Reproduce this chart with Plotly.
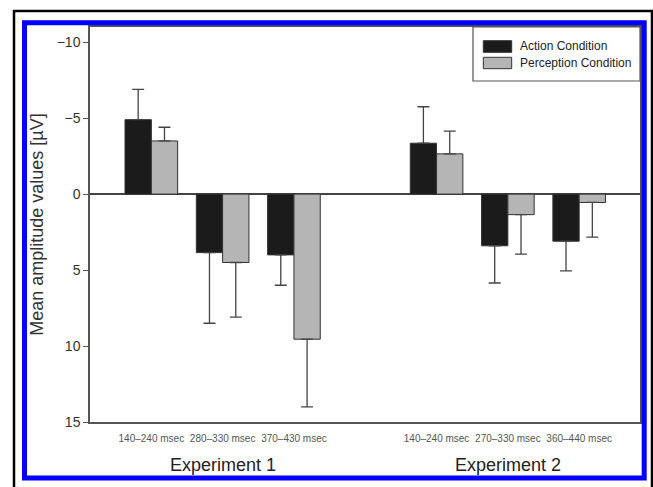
import plotly.graph_objects as go

# ---------------- data ----------------
positions = [0, 1, 2, 4, 5, 6]
window_labels = ["140–240 msec", "280–330 msec", "370–430 msec",
                 "140–240 msec", "270–330 msec", "360–440 msec"]
experiment_labels = ["Experiment 1", "Experiment 2"]
experiment_centers = [1, 5]
series_names = ["Action Condition", "Perception Condition"]
action_values = [-4.9, 3.85, 4.0, -3.35, 3.4, 3.1]
action_errors = [2.0, 4.65, 2.0, 2.4, 2.45, 1.95]
perception_values = [-3.5, 4.5, 9.55, -2.65, 1.35, 0.55]
perception_errors = [0.9, 3.6, 4.45, 1.5, 2.6, 2.28]
y_tick_values = [-10, -5, 0, 5, 10, 15]
y_tick_labels = ["−10", "−5", "0", "5", "10", "15"]

# ---------------- layout geometry (pixels) ----------------
W, H = 653, 487
L, R, T, B = 90, 13, 27, 65
PW, PH = W - L - R, H - T - B


def px(x):
    return (x - L) / PW


def py(y):
    return (H - B - y) / PH


def one_sided(values, errors):
    plus = [e if v > 0 else 0 for v, e in zip(values, errors)]
    minus = [e if v < 0 else 0 for v, e in zip(values, errors)]
    return plus, minus


colors = ["#1b1b1b", "#b5b5b5"]
fig = go.Figure()
for name, vals, errs, col in zip(series_names,
                                 [action_values, perception_values],
                                 [action_errors, perception_errors], colors):
    plus, minus = one_sided(vals, errs)
    fig.add_trace(go.Bar(
        x=positions, y=vals, name=name, showlegend=False,
        marker=dict(color=col, line=dict(color="#333333", width=1)),
        error_y=dict(type="data", symmetric=False, array=plus, arrayminus=minus,
                     color="#444444", thickness=1.3, width=6),
    ))

font_family = "Liberation Sans, Arial, sans-serif"

fig.update_layout(
    width=W, height=H,
    margin=dict(l=L, r=R, t=T, b=B, pad=0),
    paper_bgcolor="white", plot_bgcolor="white",
    barmode="group", bargap=0.262, bargroupgap=0,
    font=dict(family=font_family, color="#333333"),
    xaxis=dict(range=[-0.86, 6.853], tickvals=positions, ticktext=window_labels,
               tickfont=dict(size=10, color="#555555"), ticks="",
               showgrid=False, zeroline=False, showline=True,
               linecolor="#555555", linewidth=1.5, mirror=True,
               ticklabelstandoff=6),
    yaxis=dict(range=[15, -11.0], tickvals=y_tick_values, ticktext=y_tick_labels,
               tickfont=dict(size=14, color="#333333"), ticks="outside",
               ticklen=5, tickcolor="#555555", tickwidth=1.2,
               showgrid=False, zeroline=True, zerolinecolor="#444444",
               zerolinewidth=1.5, showline=True, linecolor="#555555",
               linewidth=1.5, mirror=True,
               title=dict(text="Mean amplitude values [µV]",
                          font=dict(size=18, color="#333333"), standoff=8)),
)

shapes = []
# outer black frame (open at bottom)
shapes.append(dict(type="path", xref="paper", yref="paper",
                   path=f"M {px(14)},{py(492)} L {px(14)},{py(11)} L {px(652)},{py(11)} L {px(652)},{py(492)}",
                   line=dict(color="black", width=2.5)))
# blue frame
shapes.append(dict(type="rect", xref="paper", yref="paper",
                   x0=px(24.5), x1=px(644.2), y0=py(478), y1=py(22.7),
                   line=dict(color="#0000ff", width=5)))
# legend box
shapes.append(dict(type="rect", xref="paper", yref="paper",
                   x0=px(473), x1=px(640), y0=py(81), y1=py(27),
                   line=dict(color="#555555", width=1.2), fillcolor="white"))
legend_rows = [(40.7, 52.3, 46), (57.3, 68.7, 62.7)]
annotations = []
for (y0, y1, yt), name, col in zip(legend_rows, series_names, colors):
    shapes.append(dict(type="rect", xref="paper", yref="paper",
                       x0=px(483.3), x1=px(511.7), y0=py(y1), y1=py(y0),
                       line=dict(color="#333333", width=1), fillcolor=col))
    annotations.append(dict(xref="paper", yref="paper", x=px(518), y=py(yt),
                            xanchor="left", yanchor="middle", showarrow=False,
                            text=name, font=dict(size=12, color="#222222")))

for lab, xc in zip(experiment_labels, experiment_centers):
    annotations.append(dict(xref="x", yref="paper", x=xc, y=py(465),
                            xanchor="center", yanchor="middle", showarrow=False,
                            text=lab, font=dict(size=18, color="#222222")))

fig.update_layout(shapes=shapes, annotations=annotations)
fig.write_html("out.html")
